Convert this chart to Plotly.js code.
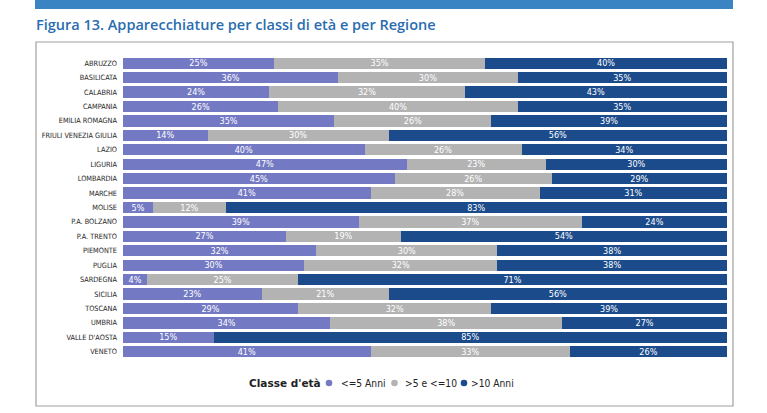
<!DOCTYPE html>
<html>
<head>
<meta charset="utf-8">
<script src="https://cdn.plot.ly/plotly-3.0.1.min.js"></script>
<style>
  html, body { margin: 0; padding: 0; background: #ffffff; }
  #chart { width: 767px; height: 413px; }
</style>
</head>
<body>
<div id="chart"></div>
<script>
// Regions (top to bottom)
const regioni = [
  "ABRUZZO", "BASILICATA", "CALABRIA", "CAMPANIA", "EMILIA ROMAGNA",
  "FRIULI VENEZIA GIULIA", "LAZIO", "LIGURIA", "LOMBARDIA", "MARCHE",
  "MOLISE", "P.A. BOLZANO", "P.A. TRENTO", "PIEMONTE", "PUGLIA",
  "SARDEGNA", "SICILIA", "TOSCANA", "UMBRIA", "VALLE D'AOSTA", "VENETO"
];

// Share of equipment by age class (%)
const finoA5 = [25, 36, 24, 26, 35, 14, 40, 47, 45, 41, 5, 39, 27, 32, 30, 4, 23, 29, 34, 15, 41];
const da5a10 = [35, 30, 32, 40, 26, 30, 26, 23, 26, 28, 12, 37, 19, 30, 32, 25, 21, 32, 38, 0, 33];
const oltre10 = [40, 35, 43, 35, 39, 56, 34, 30, 29, 31, 83, 24, 54, 38, 38, 71, 56, 39, 27, 85, 26];

const classi = ["<=5 Anni", ">5 e <=10", ">10 Anni"];
const colori = ["#7479c3", "#b3b3b3", "#1b4b8b"];
const titoloLegenda = "Classe d'età";

const FONT = "Liberation Sans Narrow, DejaVu Sans Condensed, Roboto, sans-serif";

function pct(arr) {
  return arr.map(v => (v > 0 ? v + "%" : ""));
}

const serie = [finoA5, da5a10, oltre10];

const traces = serie.map((vals, i) => ({
  type: "bar",
  orientation: "h",
  y: regioni,
  x: vals,
  name: classi[i],
  marker: { color: colori[i] },
  text: pct(vals),
  textposition: "inside",
  insidetextanchor: "middle",
  constraintext: "none",
  textfont: { color: "#ffffff", size: 9, family: FONT },
  hoverinfo: "skip",
  showlegend: false
}));

// Frame geometry in paper units (plot area spans x 123..727, y 56..359 px)
const px = x => (x - 123) / 604;
const py = y => (359 - y) / 303;

// Compact legend row: title, then a round swatch and label per class
const legY = py(383);
const legAnn = [{
  text: "<b>" + titoloLegenda + "</b>",
  xref: "paper", yref: "paper", x: px(247), y: legY,
  xanchor: "left", yanchor: "middle", showarrow: false,
  font: { family: "DejaVu Sans, sans-serif", size: 10.5, color: "#222222" }
}];
const legShapes = [];
const legX = [329, 394.5, 464];
const legTextX = [339, 403, 469];
classi.forEach((c, i) => {
  const cx = legX[i];
  legShapes.push({
    type: "circle", xref: "paper", yref: "paper",
    x0: px(cx - 3.3), x1: px(cx + 3.3), y0: legY - 3.3 / 303, y1: legY + 3.3 / 303,
    fillcolor: colori[i], line: { width: 0 }
  });
  legAnn.push({
    text: c,
    xref: "paper", yref: "paper", x: px(legTextX[i]), y: legY,
    xanchor: "left", yanchor: "middle", showarrow: false,
    font: { family: FONT, size: 10.2, color: "#222222" }
  });
});

const layout = {
  width: 767,
  height: 413,
  margin: { l: 123, r: 40, t: 56, b: 54 },
  paper_bgcolor: "#ffffff",
  plot_bgcolor: "#ffffff",
  barmode: "stack",
  barnorm: "percent",
  bargap: 0.22,
  showlegend: false,
  title: {
    text: "Figura 13. Apparecchiature per classi di età e per Regione",
    font: { family: "Open Sans, sans-serif", size: 14.5, color: "#2a6db0", weight: 600 },
    x: 36 / 767,
    xanchor: "left",
    xref: "container",
    y: 1 - 25 / 413,
    yanchor: "middle",
    yref: "container"
  },
  xaxis: {
    visible: false,
    range: [0, 100],
    fixedrange: true
  },
  yaxis: {
    type: "category",
    autorange: "reversed",
    showgrid: false,
    zeroline: false,
    showline: false,
    ticks: "",
    ticklabelstandoff: 5,
    tickfont: { family: FONT, size: 7.3, color: "#1e1e1e" },
    fixedrange: true
  },
  annotations: legAnn,
  shapes: [
    {
      type: "rect", xref: "paper", yref: "paper",
      x0: px(35), x1: px(733), y0: py(9), y1: py(0),
      fillcolor: "#3a84c4", line: { width: 0 }, layer: "below"
    },
    {
      type: "rect", xref: "paper", yref: "paper",
      x0: px(36), x1: px(733), y0: py(406), y1: py(42),
      fillcolor: "rgba(0,0,0,0)", line: { width: 1.2, color: "#a0a0a0" }, layer: "below"
    }
  ].concat(legShapes)
};

Plotly.newPlot("chart", traces, layout, { displayModeBar: false, staticPlot: true });
</script>
</body>
</html>
